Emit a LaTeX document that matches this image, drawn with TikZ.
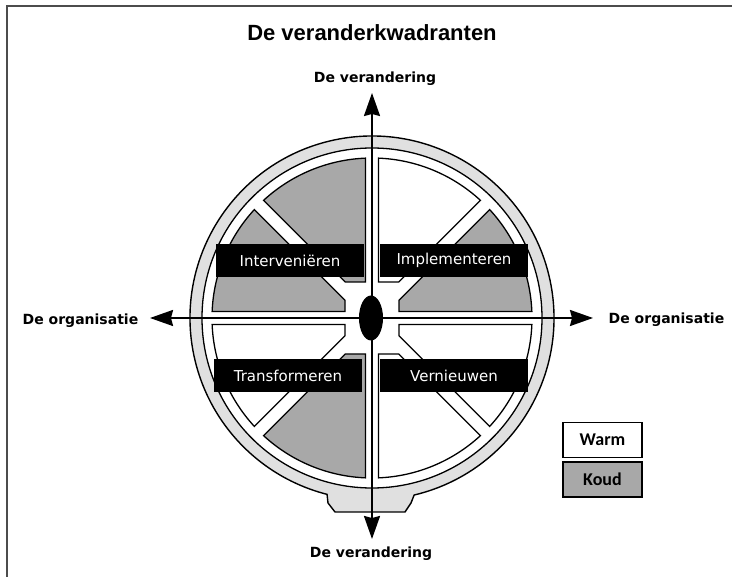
\documentclass[tikz,border=0pt]{standalone}
\usepackage{fontspec}
\setmainfont{Liberation Sans}
\newfontfamily\asfont{DejaVu Sans}
\newfontfamily\legfont{Carlito}
\usetikzlibrary{arrows.meta}
\definecolor{koud}{gray}{0.66}
\definecolor{rand}{gray}{0.88}
\newcommand\kwsector[2]{%
% one field between two spokes, drawn for 0 to 45 degrees
    \filldraw[fill=#2,draw=black,line width=1.3pt] (#1,6.5) -- (2.33:160)
    arc[start angle=2.33,end angle=42.67,radius=160]
    -- ({#1},{#1-9.19}) -- cycle;
    }

\begin{document}
\begin{tikzpicture}[x=1pt,y=-1pt,
    kwadrant/.style={fill=black,text=white,minimum width=148pt,minimum height=33pt,inner sep=0pt,font=\asfont\fontsize{15}{18}\selectfont},
    askop/.style={font=\asfont\bfseries\fontsize{14}{17}\selectfont,anchor=base},
    legenda/.style={draw=black,line width=1.4pt,minimum width=79pt,minimum height=35pt,inner sep=0pt,font=\legfont\bfseries\fontsize{18}{20}\selectfont},
    pijl/.style={line width=2pt,arrows={Stealth[length=23pt,width=16pt,inset=2pt]-Stealth[length=23pt,width=16pt,inset=2pt]}}]
    \useasboundingbox (0,0) rectangle (732,577);
    % frame
    \draw[black!70,line width=1.2pt] (7,577) -- (7,6) -- (732,6);

    % the wheel with its foot
    \begin{scope}[shift={(372,318)},yscale=-1]
    \filldraw[fill=rand,line width=1.4pt] (-76.6:182) arc[start angle=-76.6,end angle=255.7,radius=182]
    -- (-44,-185) -- (-37,-194) -- (33,-194) -- (39,-185) -- cycle;
    \filldraw[fill=white,line width=1.3pt] (0,0) circle[radius=170];
    % angle / mirror / cut / colour
    \foreach \hoek/\spiegel/\snede/\kleur in {0/1/27/koud,0/-1/27/white,90/-1/36/white,90/1/36/koud,
        180/-1/27/koud,180/1/27/white,270/-1/36/koud,270/1/36/white}{
        \begin{scope}[rotate=-\hoek,yscale=\spiegel]
        \kwsector{\snede}{\kleur}
        \end{scope}
    }
    \fill (-1,0) ellipse[x radius=12,y radius=22.5];
    \end{scope}

    % axes
    \coordinate (vboven) at (372,93);
    \coordinate (vonder) at (372,539);
    \coordinate (hlinks) at (150,318);
    \coordinate (hrechts) at (593,318);
    \draw[pijl] (vonder) -- (vboven);
    \draw[pijl] (hlinks) -- (hrechts);

    \node[font=\bfseries\fontsize{22}{26}\selectfont,anchor=base] (titel) at (372,41) {De veranderkwadranten};
    \node[askop] (verboven) at (375,83) {De verandering};
    \node[askop] (veronder) at (371,558) {De verandering};
    \node[askop] (orglinks) at (80.5,325) {De organisatie};
    \node[askop] (orgrechts) at (666.5,324) {De organisatie};

    % the four quadrants
    \node[kwadrant] (interv) at (290,260.5) {Interveniëren};
    \node[kwadrant] (implem) at (454,260.5) {Implementeren};
    \node[kwadrant] (transf) at (288,375.5) {Transformeren};
    \node[kwadrant] (vernieuw) at (454,375.5) {Vernieuwen};

    % legend
    \node[legenda,fill=white] (warm) at (602.5,440) {Warm};
    \node[legenda,fill=koud] (koudvak) at (602.5,479.5) {Koud};
\end{tikzpicture}
\end{document}
